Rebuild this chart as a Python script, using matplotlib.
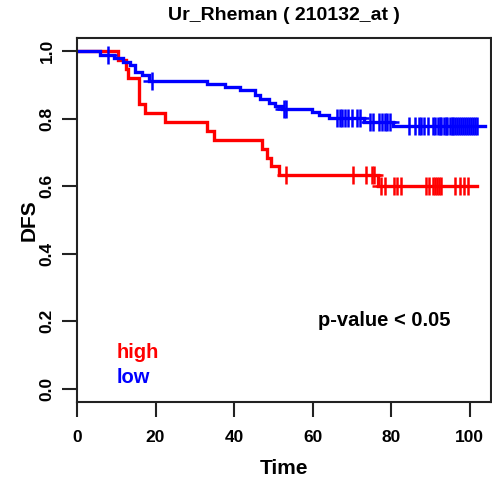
import numpy as np
import matplotlib
matplotlib.use("Agg")
import matplotlib.pyplot as plt

plt.rcParams["font.family"] = ["Liberation Sans", "DejaVu Sans"]
plt.rcParams["font.weight"] = "bold"

title = "Ur_Rheman ( 210132_at )"
group_names = ["high", "low"]
group_colors = ["#FF0000", "#0000FF"]

# Kaplan-Meier steps for the "high" group: event times and survival after each event
high_times = [0, 10.5, 12.6, 13.1, 15.8, 17.3, 22.3, 33.1, 34.8, 47.1, 48.4, 49.4, 51.4, 76.6]
high_surv = [1.0, 0.974, 0.947, 0.921, 0.842, 0.816, 0.789, 0.763, 0.737, 0.711, 0.684, 0.658, 0.632, 0.599]
high_end = 102.0
high_censor = [53.3, 70.4, 73.5, 75.2, 75.7, 77.5, 78.4, 80.7, 81.6, 82.4, 88.8, 89.6,
               90.6, 91.1, 91.6, 92.1, 92.6, 96.4, 97.5, 98.5, 99.7]

# Kaplan-Meier steps for the "low" group
low_times = [0, 5.9, 9.3, 11.8, 13.5, 14.8, 16.5, 18.3, 33.1, 37.6, 41.6, 45.4, 46.7,
             49.0, 50.5, 52.3, 59.9, 61.6, 64.1, 73.0, 80.5]
low_surv = [1.0, 0.988, 0.978, 0.968, 0.959, 0.939, 0.929, 0.911, 0.902, 0.893, 0.883,
            0.870, 0.858, 0.847, 0.837, 0.829, 0.820, 0.811, 0.801, 0.791, 0.777]
low_end = 104.0
low_censor = [7.9, 19.1, 52.6, 53.3, 66.3, 67.0, 67.6, 68.3, 69.1, 70.0, 71.2, 72.1,
              74.6, 75.5, 76.8, 77.6, 78.5, 79.0, 79.8, 84.5, 86.2, 87.0, 87.7, 88.5,
              89.4, 90.8, 91.3, 91.9, 92.4, 92.8, 93.4, 93.9, 94.3, 94.9, 95.4, 95.8,
              96.4, 96.9, 97.3, 97.9, 98.4, 98.8, 99.4, 99.9, 100.3, 100.9, 101.4, 101.8]

x_ticks = [0, 20, 40, 60, 80, 100]
y_ticks = [0.0, 0.2, 0.4, 0.6, 0.8, 1.0]
p_text = "p-value < 0.05"

W, H = 492, 479
fig = plt.figure(figsize=(W / 100, H / 100), dpi=100)
ax = fig.add_axes([77 / W, (H - 402) / H, (491 - 77) / W, (402 - 37.5) / H])


def draw_km(times, surv, end, censor, color):
    t = np.array(times + [end])
    s = np.array(surv + [surv[-1]])
    ax.plot(t, s, drawstyle="steps-post", color=color, lw=2.4, solid_joinstyle="miter")
    c = np.array(censor)
    idx = np.searchsorted(np.array(times), c, side="right") - 1
    ax.plot(c, np.array(surv)[idx], linestyle="none", marker="+", ms=13, mew=1.8,
            color=color)


draw_km(high_times, high_surv, high_end, high_censor, group_colors[0])
draw_km(low_times, low_surv, low_end, low_censor, group_colors[1])

ax.set_xlim(0, 105.45)
ax.set_ylim(-0.04, 1.04)
ax.set_xticks(x_ticks)
ax.set_xticklabels([str(v) for v in x_ticks])
ax.set_yticks(y_ticks)
ax.set_yticklabels([f"{v:.1f}" for v in y_ticks])
ax.tick_params(axis="both", direction="out", length=11, width=1.5, color="#222222",
               labelsize=12.5)
ax.tick_params(axis="x", pad=9)
ax.tick_params(axis="y", pad=5, labelrotation=90)
for lbl in ax.get_yticklabels():
    lbl.set_va("center")
for sp in ax.spines.values():
    sp.set_linewidth(1.5)
    sp.set_color("#222222")

ax.text(10, 0.107, group_names[0], color=group_colors[0], fontsize=14.5,
        fontweight="bold", ha="left", va="center")
ax.text(10, 0.033, group_names[1], color=group_colors[1], fontsize=14.5,
        fontweight="bold", ha="left", va="center")
ax.text(78.3, 0.202, p_text, color="black", fontsize=14.5, fontweight="bold",
        ha="center", va="center")

fig.text(284 / W, 1 - 15 / H, title, ha="center", va="center", fontsize=14,
         fontweight="bold")
fig.text(284 / W, 1 - 468 / H, "Time", ha="center", va="center", fontsize=15,
         fontweight="bold")
fig.text(29 / W, 1 - 220 / H, "DFS", ha="center", va="center", fontsize=15,
         fontweight="bold", rotation=90)

fig.savefig("out.png", dpi=100)
